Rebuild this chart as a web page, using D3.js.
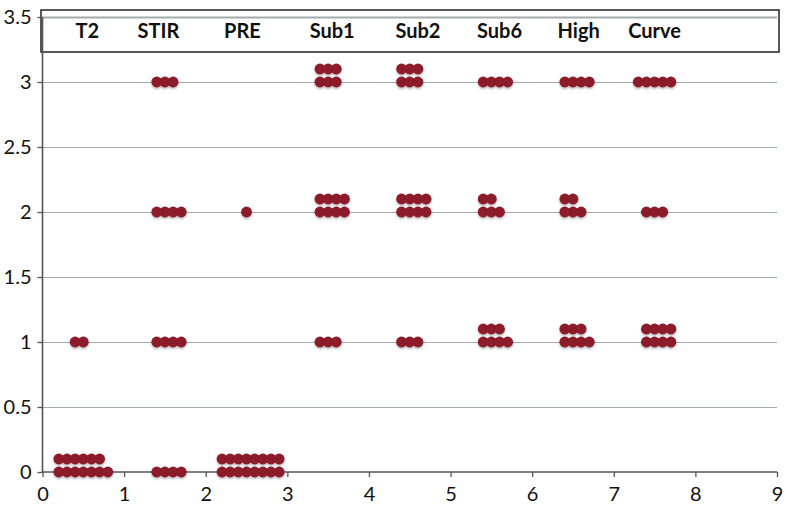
<!DOCTYPE html>
<html>
<head>
<meta charset="utf-8">
<script src="https://cdn.jsdelivr.net/npm/d3@7"></script>
<style>
  body { margin: 0; background: #fff; }
  text { font-family: Lato, "Open Sans", sans-serif; fill: #111; }
  .tick text { font-size: 20px; }
  .head { font-size: 20px; font-weight: bold; }
</style>
</head>
<body>
<svg id="chart" width="786" height="513"></svg>
<script>
// --- data ---
const categories = ["T2", "STIR", "PRE", "Sub1", "Sub2", "Sub6", "High", "Curve"];
// where each header label sits (x, in data units)
const headerX = [0.55, 1.42, 2.45, 3.55, 4.6, 5.6, 6.57, 7.5];

const xTicks = [0, 1, 2, 3, 4, 5, 6, 7, 8, 9];
const yTicks = [0, 0.5, 1, 1.5, 2, 2.5, 3, 3.5];

// rows of stacked dots for each category: y value + x of each dot
const T2 = [
  { y: 0, x: [0.2, 0.3, 0.4, 0.5, 0.6, 0.7, 0.8] },
  { y: 0.1, x: [0.2, 0.3, 0.4, 0.5, 0.6, 0.7] },
  { y: 1, x: [0.4, 0.5] },
];
const STIR = [
  { y: 0, x: [1.4, 1.5, 1.6, 1.7] },
  { y: 1, x: [1.4, 1.5, 1.6, 1.7] },
  { y: 2, x: [1.4, 1.5, 1.6, 1.7] },
  { y: 3, x: [1.4, 1.5, 1.6] },
];
const PRE = [
  { y: 0, x: [2.2, 2.3, 2.4, 2.5, 2.6, 2.7, 2.8, 2.9] },
  { y: 0.1, x: [2.2, 2.3, 2.4, 2.5, 2.6, 2.7, 2.8, 2.9] },
  { y: 2, x: [2.5] },
];
const Sub1 = [
  { y: 1, x: [3.4, 3.5, 3.6] },
  { y: 2, x: [3.4, 3.5, 3.6, 3.7] },
  { y: 2.1, x: [3.4, 3.5, 3.6, 3.7] },
  { y: 3, x: [3.4, 3.5, 3.6] },
  { y: 3.1, x: [3.4, 3.5, 3.6] },
];
const Sub2 = [
  { y: 1, x: [4.4, 4.5, 4.6] },
  { y: 2, x: [4.4, 4.5, 4.6, 4.7] },
  { y: 2.1, x: [4.4, 4.5, 4.6, 4.7] },
  { y: 3, x: [4.4, 4.5, 4.6] },
  { y: 3.1, x: [4.4, 4.5, 4.6] },
];
const Sub6 = [
  { y: 1, x: [5.4, 5.5, 5.6, 5.7] },
  { y: 1.1, x: [5.4, 5.5, 5.6] },
  { y: 2, x: [5.4, 5.5, 5.6] },
  { y: 2.1, x: [5.4, 5.5] },
  { y: 3, x: [5.4, 5.5, 5.6, 5.7] },
];
const High = [
  { y: 1, x: [6.4, 6.5, 6.6, 6.7] },
  { y: 1.1, x: [6.4, 6.5, 6.6] },
  { y: 2, x: [6.4, 6.5, 6.6] },
  { y: 2.1, x: [6.4, 6.5] },
  { y: 3, x: [6.4, 6.5, 6.6, 6.7] },
];
const Curve = [
  { y: 1, x: [7.4, 7.5, 7.6, 7.7] },
  { y: 1.1, x: [7.4, 7.5, 7.6, 7.7] },
  { y: 2, x: [7.4, 7.5, 7.6] },
  { y: 3, x: [7.3, 7.4, 7.5, 7.6, 7.7] },
];
const series = [T2, STIR, PRE, Sub1, Sub2, Sub6, High, Curve];

// --- chart ---
const svg = d3.select("#chart");
const margin = { top: 17, left: 42.5, right: 9, bottom: 41 };
const width = 786 - margin.left - margin.right;
const height = 513 - margin.top - margin.bottom;

const x = d3.scaleLinear().domain([0, 9]).range([0, width]);
const y = d3.scaleLinear().domain([0, 3.5]).range([height, 0]);

const g = svg.append("g").attr("transform", `translate(${margin.left},${margin.top})`);

// header box (fill first, border drawn later)
const box = { x: -1.5, y: -7, w: width + 3.5, h: 42 };
g.append("rect")
  .attr("x", box.x).attr("y", box.y)
  .attr("width", box.w).attr("height", box.h)
  .attr("fill", "#fff");

// gridlines
g.append("g")
  .selectAll("line")
  .data(yTicks.filter((d) => d > 0))
  .join("line")
  .attr("x1", 0).attr("x2", width)
  .attr("y1", (d) => Math.round(y(d)) + 0.5)
  .attr("y2", (d) => Math.round(y(d)) + 0.5)
  .attr("stroke", "#a3abab")
  .attr("stroke-width", (d) => (d === 3.5 ? 2 : 1.2));

g.append("rect")
  .attr("x", box.x).attr("y", box.y)
  .attr("width", box.w).attr("height", box.h)
  .attr("fill", "none")
  .attr("stroke", "#222")
  .attr("stroke-width", 1.5);

g.selectAll(".head")
  .data(categories)
  .join("text")
  .attr("class", "head")
  .attr("x", (d, i) => x(headerX[i]))
  .attr("y", 21)
  .attr("text-anchor", "middle")
  .text((d) => d);

// axes
const xAxis = g.append("g")
  .attr("transform", `translate(0,${height})`)
  .call(d3.axisBottom(x).tickValues(xTicks).tickFormat(d3.format("d")).tickSize(5).tickPadding(10));
const yAxis = g.append("g")
  .call(d3.axisLeft(y).tickValues(yTicks).tickFormat((d) => String(d)).tickSize(5).tickPadding(6));

[xAxis, yAxis].forEach((a) => {
  a.select(".domain").attr("stroke", "#555").attr("stroke-width", 1.6);
  a.selectAll(".tick line").attr("stroke", "#555").attr("stroke-width", 1.3);
  a.selectAll(".tick text").attr("fill", "#111").style("font-family", "Lato, sans-serif");
});
xAxis.select(".domain").attr("d", `M0,0H${width}`);
yAxis.select(".domain").attr("d", `M0,0V${height}`);

// soft shadow under dots
const defs = svg.append("defs");
const f = defs.append("filter").attr("id", "shadow").attr("x", "-50%").attr("y", "-50%").attr("width", "200%").attr("height", "200%");
f.append("feDropShadow").attr("dx", 0).attr("dy", 1.5).attr("stdDeviation", 1.2).attr("flood-color", "#000").attr("flood-opacity", 0.3);

// dots
const dots = [];
series.forEach((rows) => rows.forEach((r) => r.x.forEach((v) => dots.push({ x: v, y: r.y }))));

g.append("g")
  .attr("filter", "url(#shadow)")
  .selectAll("circle")
  .data(dots)
  .join("circle")
  .attr("cx", (d) => x(d.x))
  .attr("cy", (d) => y(d.y))
  .attr("r", 5.4)
  .attr("fill", "#8c1a2c");
</script>
</body>
</html>
